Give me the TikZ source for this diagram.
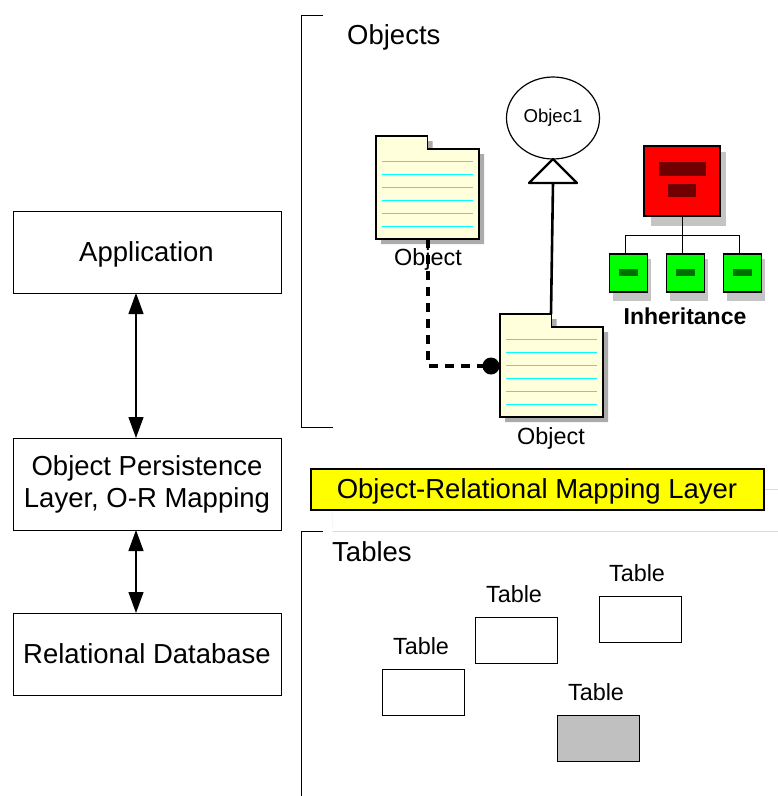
\documentclass[tikz,border=0pt]{standalone}
\usepackage{fontspec}
\setmainfont{Liberation Sans}
\usetikzlibrary{arrows.meta,shapes.geometric}
\definecolor{foldfill}{HTML}{FFFFDC}
\definecolor{shadowgray}{HTML}{ABABAB}
\definecolor{lightshadow}{HTML}{C4C4C4}
\definecolor{tablegray}{HTML}{C0C0C0}
\definecolor{darkred}{HTML}{700000}
\definecolor{darkgreen}{HTML}{007000}
\definecolor{limeg}{HTML}{00FF00}
\definecolor{purecyan}{HTML}{00FFFF}
\definecolor{pureyellow}{HTML}{FFFF00}
\definecolor{purered}{HTML}{FF0000}
\tikzset{
  fsa/.style={font=\fontsize{27.5}{32}\selectfont},
  fsb/.style={font=\fontsize{23.4}{27}\selectfont},
  layerbox/.style={draw,line width=1pt,fill=white,minimum width=268pt,inner sep=0pt,align=center,fsa},
  tablebox/.style={draw,line width=1pt,fill=white,minimum width=82pt,minimum height=46pt,inner sep=0pt},
  tablelabel/.style={fsb,inner sep=0pt},
  biarrow/.style={line width=1.2pt,{Triangle[length=21pt,width=15pt]}-{Triangle[length=21pt,width=15pt]}},
  bracket/.style={line width=1pt},
  notefold/.style={draw,line width=1.2pt,fill=foldfill},
  noteline/.style={purecyan,line width=1pt},
  redbox/.style={draw,line width=1.3pt,fill=purered,minimum width=76pt,minimum height=70pt,inner sep=0pt},
  greenbox/.style={draw,line width=1.3pt,fill=limeg,minimum width=38pt,minimum height=38pt,inner sep=0pt},
  treeline/.style={line width=0.8pt},
}
\newcommand{\notefolder}[3]{%
  \fill[shadowgray] (#1+5,#2+5) -- (#1+56.5,#2+5) -- (#1+56.5,#2+18) -- (#1+108,#2+18) -- (#1+108,#2+108) -- (#1+5,#2+108) -- cycle;
  \draw[notefold] (#1,#2) -- (#1+51.5,#2) -- (#1+51.5,#2+13) -- (#1+103,#2+13) -- (#1+103,#2+103) -- (#1,#2+103) -- cycle;
  \foreach \k in {0,...,5} \draw[noteline] (#1+6,#2+25.5+13*\k) -- (#1+97,#2+25.5+13*\k);
  \coordinate (#3) at (#1,#2);
}
\begin{document}
\begin{tikzpicture}[x=1pt,y=-1pt]
\useasboundingbox (0,0) rectangle (778,796);

% left column
\node[layerbox,minimum height=82pt] (app) at (147,252) {};
\node[fsa,inner sep=0pt] (appt) at (146.5,254) {Application};
\node[layerbox,minimum height=92pt] (opl) at (147,484) {};
\node[fsa,inner sep=0pt] (oplta) at (147,468) {Object Persistence};
\node[fsa,inner sep=0pt] (opltb) at (147,500) {Layer, O-R Mapping};
\node[layerbox,minimum height=82pt] (rdb) at (147,654) {Relational Database};
\coordinate (appb) at (136,293);
\coordinate (oplt) at (136,438);
\coordinate (oplb) at (136,530);
\coordinate (rdbt) at (136,613);
\draw[biarrow] (appb) -- (oplt);
\draw[biarrow] (oplb) -- (rdbt);

% faint rules behind the layer box
\coordinate (ga) at (333,531);
\coordinate (gb) at (778,531);
\coordinate (gc) at (764,489);
\coordinate (gd) at (778,489);
\coordinate (ge) at (332,510);
\draw[black!14,line width=0.8pt] (ga) -- (gb);
\draw[black!14,line width=0.6pt] (gc) -- (gd);
\draw[black!5,line width=0.6pt] (ge) -- (ga);

% brackets
\coordinate (ba) at (323,15);
\coordinate (bb) at (301,15);
\coordinate (bc) at (301,427);
\coordinate (bd) at (333,427);
\draw[bracket] (ba) -- (bb) -- (bc) -- (bd);
\coordinate (be) at (323,531);
\coordinate (bf) at (301,531);
\coordinate (bg) at (301,796);
\draw[bracket] (be) -- (bf) -- (bg);

\node[fsa,anchor=west,inner sep=0pt] (objects) at (347,37) {Objects};
\node[fsa,anchor=west,inner sep=0pt] (tables) at (332,552) {Tables};

% folders
\notefolder{376}{136}{fa}
\notefolder{500}{314}{fb}
\coordinate (fab) at (428,239);
\coordinate (bend) at (428,366);
\coordinate (fbl) at (491,366);
\coordinate (fbt) at (551,314);

% connectors
\draw[line width=3.4pt,dash pattern=on 9pt off 7pt] (fab) -- (bend) -- (fbl);
\fill (fbl) circle (8.5pt);
\node[fsb,inner sep=0pt] (obja) at (428,259) {Object};
\node[fsb,inner sep=0pt] (objb) at (551,438.5) {Object};

% class
\node[draw,ellipse,line width=1.2pt,fill=white,minimum width=93pt,minimum height=82pt,inner sep=0pt,font=\fontsize{18.6}{22}\selectfont] (cls) at (553,118) {Objec1};
\coordinate (tria) at (553,159);
\coordinate (trib) at (577,183);
\coordinate (tric) at (529,183);
\draw[line width=2.2pt,line join=round,fill=white] (tria) -- (trib) -- (tric) -- cycle;
\coordinate (trim) at (553,183);
\draw[line width=2.6pt] (trim) -- (fbt);

% inheritance
\fill[lightshadow] (651,152) rectangle (726,226);
\foreach \xx in {609,666,723} \fill[lightshadow] (\xx+4,259) rectangle (\xx+42,301);
\node[redbox] (par) at (682,181) {};
\fill[darkred] (659,162) rectangle (706,176);
\fill[darkred] (668,183.5) rectangle (696,197);
\node[greenbox] (ca) at (628.5,273) {};
\node[greenbox] (cb) at (685.5,273) {};
\node[greenbox] (cc) at (742.5,273) {};
\fill[darkgreen] (619,269) rectangle (638,276);
\fill[darkgreen] (676,269) rectangle (695,276);
\fill[darkgreen] (733,269) rectangle (752,276);
\coordinate (hub) at (682,235);
\draw[treeline] (par.south) -- (hub);
\draw[treeline] (hub) -- (625,235) -- (625,254);
\draw[treeline] (hub) -- (682,254);
\draw[treeline] (hub) -- (739,235) -- (739,254);
\node[font=\fontsize{23}{27}\selectfont\bfseries,inner sep=0pt] (inh) at (685,316) {Inheritance};

% mapping layer
\node[draw,line width=1.3pt,fill=pureyellow,minimum width=453pt,minimum height=41pt,inner sep=0pt] (orm) at (537.5,489.5) {};
\node[fsa,inner sep=0pt] (ormt) at (537,491) {Object-Relational Mapping Layer};

% tables
\node[tablebox] (ta) at (516.9,640.9) {};
\node[tablebox] (tb) at (640.9,619.9) {};
\node[tablebox] (tc) at (423.9,692.9) {};
\node[tablebox,fill=tablegray] (td) at (598.9,738.9) {};
\node[tablelabel] (la) at (514,594) {Table};
\node[tablelabel] (lb) at (637,573) {Table};
\node[tablelabel] (lc) at (421,646) {Table};
\node[tablelabel] (ld) at (596,692) {Table};
\end{tikzpicture}
\end{document}
